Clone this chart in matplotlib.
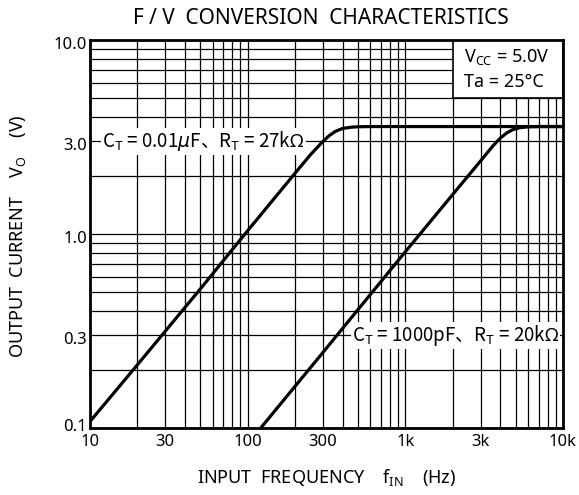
import matplotlib
matplotlib.use("Agg")
import matplotlib.pyplot as plt
from matplotlib.patches import Rectangle
from matplotlib.transforms import ScaledTranslation

plt.rcParams['font.family'] = ['Noto Sans', 'Noto Sans CJK JP', 'DejaVu Sans']
plt.rcParams['mathtext.fontset'] = 'custom'
plt.rcParams['mathtext.rm'] = 'Noto Sans'

# Data
freq_a = [10, 20, 50, 100, 200, 250, 300, 330, 360, 400, 450, 500, 600, 1000, 10000]
volt_a = [0.108, 0.212, 0.52, 1.04, 2.06, 2.56, 3.0, 3.22, 3.38, 3.5, 3.55, 3.57, 3.58, 3.58, 3.58]

freq_b = [121, 300, 1000, 2000, 3000, 3600, 4000, 4400, 4800, 5300, 6000, 7000, 10000]
volt_b = [0.1, 0.245, 0.81, 1.6, 2.38, 2.85, 3.12, 3.32, 3.45, 3.53, 3.57, 3.58, 3.58]

x_ticks = [10, 30, 100, 300, 1000, 3000, 10000]
x_labels = ['10', '30', '100', '300', '1k', '3k', '10k']
y_ticks = [0.1, 0.3, 1.0, 3.0, 10.0]
y_labels = ['0.1', '0.3', '1.0', '3.0', '10.0']

x_grid = [m * d for d in (10, 100, 1000) for m in range(1, 10)] + [10000]
y_grid = [m * d for d in (0.1, 1) for m in range(1, 10)] + [10]

fig = plt.figure(figsize=(5.79, 4.95), dpi=100)
ax = fig.add_axes([90/579, 1-428/495, (563-90)/579, (428-40)/495])
ax.set_xscale('log')
ax.set_yscale('log')
ax.set_xlim(10, 10000)
ax.set_ylim(0.1, 10)

for xv in x_grid:
    ax.axvline(xv, color='black', lw=0.9, zorder=1)
for yv in y_grid:
    ax.axhline(yv, color='black', lw=0.9, zorder=1)

ax.set_xticks(x_ticks)
ax.set_xticklabels(x_labels)
ax.set_yticks(y_ticks)
ax.set_yticklabels(y_labels)
ax.minorticks_off()
ax.tick_params(length=0, labelsize=12, pad=2)
ax.tick_params(axis='x', pad=4)
ylabs = ax.get_yticklabels()
for i, lab in enumerate(ylabs):
    dy = 3 if i == 0 else -3
    lab.set_transform(lab.get_transform() + ScaledTranslation(0, dy/100, fig.dpi_scale_trans))
for s in ax.spines.values():
    s.set_linewidth(2)
    s.set_zorder(10)

ax.plot(freq_a, volt_a, color='black', lw=2.3, zorder=5, solid_capstyle='butt')
ax.plot(freq_b, volt_b, color='black', lw=2.3, zorder=5, solid_capstyle='butt')

# condition box
ax.add_patch(Rectangle((2000, 5), 8000, 5, facecolor='white', edgecolor='black',
                       lw=1.2, zorder=6))
ax.text(0.791, 0.956, r'V$_\mathregular{CC}$ = 5.0V', transform=ax.transAxes,
        fontsize=13, ha='left', va='center', zorder=7)
ax.text(0.791, 0.892, 'Ta = 25°C', transform=ax.transAxes,
        fontsize=13, ha='left', va='center', zorder=7)

lab_font = ['Noto Sans CJK JP']
ax.text(11.9, 3.0, r'C$_\mathregular{T}$ = 0.01$\mathit{\mu}$F、R$_\mathregular{T}$ = 27k$\Omega$',
        fontsize=13.5, family=lab_font, ha='left', va='center', zorder=7,
        bbox=dict(facecolor='white', edgecolor='none', pad=1.0))
ax.text(9450, 0.3, r'C$_\mathregular{T}$ = 1000pF、R$_\mathregular{T}$ = 20k$\Omega$',
        fontsize=13.5, family=lab_font, ha='right', va='center', zorder=7,
        bbox=dict(facecolor='white', edgecolor='none', pad=1.0))

fig.text(321/579, 1-18/495, 'F / V  CONVERSION  CHARACTERISTICS', fontsize=15,
         ha='center', va='center')
fig.text(18/579, 1-236/495, r'OUTPUT  CURRENT    V$_\mathregular{O}$    (V)', fontsize=13,
         rotation=90, ha='center', va='center')
fig.text(327/579, 1-478/495, r'INPUT  FREQUENCY    f$_\mathregular{IN}$    (Hz)', fontsize=13,
         ha='center', va='center')

fig.savefig('out.png', dpi=100)
